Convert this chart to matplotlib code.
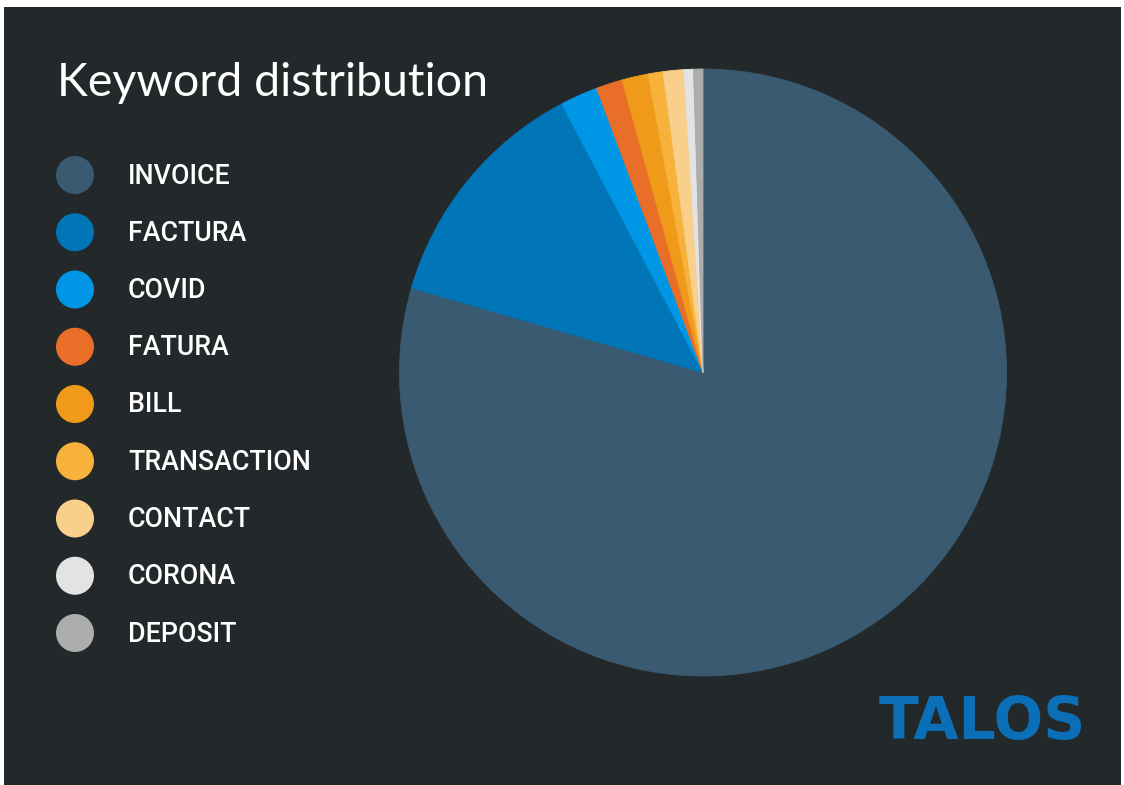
import matplotlib
matplotlib.use("Agg")
import matplotlib.pyplot as plt
from matplotlib.patches import Rectangle, Circle

categories = ["INVOICE", "FACTURA", "COVID", "FATURA", "BILL",
              "TRANSACTION", "CONTACT", "CORONA", "DEPOSIT"]
shares = [79.5, 12.8, 2.0, 1.4, 1.4, 0.8, 1.1, 0.5, 0.5]
colors = ["#395a70", "#0076b9", "#0096e6", "#e96e27", "#f09a1a",
          "#f7b23b", "#f8d08c", "#e3e3e3", "#adadad"]
title = "Keyword distribution"
logo = "TALOS"

W, H = 1124, 785
BG = "#23282a"
fig = plt.figure(figsize=(W / 100, H / 100), dpi=100, facecolor="white")

# background / overlay axes in pixel coordinates
ov = fig.add_axes([0, 0, 1, 1], zorder=0)
ov.set_xlim(0, W)
ov.set_ylim(H, 0)
ov.axis("off")
ov.add_patch(Rectangle((4, 7), 1121 - 4, H - 7, facecolor=BG,
                       edgecolor="none", zorder=0))

# pie: center (703, 372.5), radius 303.5 px
cx, cy, r = 703, 372.5, 303.5
ax = fig.add_axes([(cx - r) / W, (H - cy - r) / H, 2 * r / W, 2 * r / H], zorder=1)
ax.set_facecolor("none")
wedges, _ = ax.pie(shares, colors=colors, startangle=90, counterclock=False,
                   radius=1.0, wedgeprops=dict(linewidth=0.6))
for w in wedges:
    w.set_edgecolor(w.get_facecolor())
ax.set_xlim(-1, 1)
ax.set_ylim(-1, 1)
ax.set_aspect("equal")
ax.axis("off")

ov.text(57, 96, title, color="white", fontsize=33.5, family="Lato",
        va="baseline", ha="left", zorder=3)

y0, dy = 175, 57.25
for i, (name, col) in enumerate(zip(categories, colors)):
    y = y0 + i * dy
    ov.add_patch(Circle((75, y), 19, facecolor=col, edgecolor="none", zorder=2))
    ov.text(128, y + 1, name, color="white", fontsize=19.3, family="Roboto",
            weight="medium", va="center", ha="left", zorder=3)

ov.text(982, 722, logo, color="#0b6fb8", fontsize=42, family="DejaVu Sans",
        weight="bold", va="center", ha="center", zorder=3)

fig.savefig("out.png", dpi=100, facecolor="white")
